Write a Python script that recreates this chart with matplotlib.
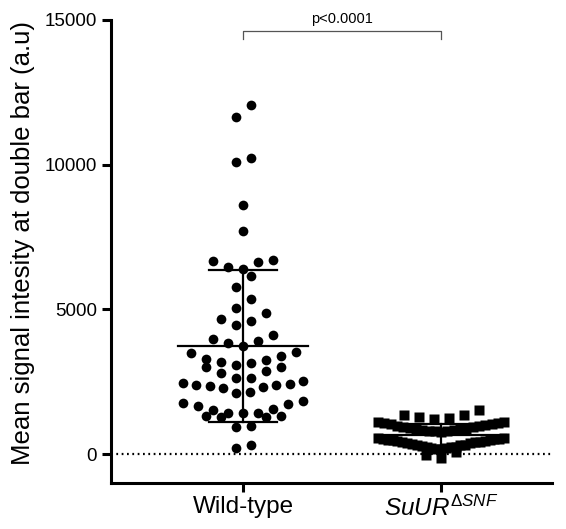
import numpy as np
import matplotlib
matplotlib.use("Agg")
import matplotlib.pyplot as plt

plt.rcParams["font.family"] = ["Liberation Sans", "DejaVu Sans"]
plt.rcParams["mathtext.fontset"] = "custom"
plt.rcParams["mathtext.rm"] = "Liberation Sans"
plt.rcParams["mathtext.it"] = "Liberation Sans:italic"

groups = ["Wild-type", r"$SuUR^{\Delta SNF}$"]

wild_type = [
    12050, 11640, 10220, 10080, 8615, 7715, 6710, 6680, 6640, 6480, 6400,
    6170, 5770, 5350, 5040, 4870, 4660, 4600, 4460, 4120, 3970, 3890, 3850,
    3740, 3520, 3480, 3400, 3290, 3250, 3170, 3140, 3090, 3000, 3000, 2860,
    2790, 2630, 2620, 2540, 2450, 2420, 2380, 2380, 2350, 2310, 2280, 2150,
    2100, 1820, 1750, 1730, 1660, 1570, 1520, 1430, 1410, 1410, 1315, 1315,
    1290, 1270, 970, 920, 310, 200,
]

suur = [
    1520, 1350, 1350, 1280, 1245, 1210,
    1120, 1105, 1080, 1065, 1040, 1030, 1000, 985, 960, 950, 925, 905,
    880, 870, 850, 830, 815, 800, 790, 780, 770,
    560, 550, 535, 520, 510, 495, 480, 470, 455, 440, 430, 410, 400, 385,
    370, 350, 330, 315, 300, 280, 260, 240, 230, 210, 195, 185, 180,
    60, -20, -140,
]

p_text = "p<0.0001"

W, H = 566, 529
fig = plt.figure(figsize=(W / 100, H / 100), dpi=100)
ax = fig.add_axes([111 / W, 46 / H, 441 / W, 463 / H])
ax.set_ylim(-1000, 15000)
ax.set_xlim(-0.667, 1.56)

# pixels per x data unit, used for the scatter layout
px_x = 441 / (1.56 + 0.667)


def rows_layout(values, thresh, spacing, half_width):
    # group sorted values into rows, spread each row sideways (lowest in the middle)
    vals = np.asarray(values, dtype=float)
    order = list(np.argsort(-vals))
    offs = np.zeros(len(vals))
    while order:
        top = vals[order[0]]
        row = [i for i in order if top - vals[i] <= thresh]
        order = [i for i in order if i not in row]
        n = len(row)
        sp = spacing if n < 2 else min(spacing, 2 * half_width / (n - 1))
        slots = sorted(((k - (n - 1) / 2) * sp for k in range(n)), key=lambda s: (abs(s), s))
        row_sorted = sorted(row, key=lambda i: vals[i])
        for i, s in zip(row_sorted, slots):
            offs[i] = s / px_x
    return offs


wt_off = rows_layout(wild_type, 450, 15, 60)
su_off = rows_layout(suur, 390, 15, 63)

ax.plot(0 + wt_off, wild_type, "o", color="black", ms=7, mec="none", clip_on=False)
ax.plot(1 + su_off, suur, "s", color="black", ms=6.5, mec="none", clip_on=False)

for x, vals in [(0, wild_type), (1, suur)]:
    m = np.mean(vals)
    sd = np.std(vals, ddof=1)
    ax.plot([x - 0.33, x + 0.33], [m, m], color="black", lw=1.6)
    ax.plot([x, x], [m - sd, m + sd], color="black", lw=1.6)
    for yy in (m - sd, m + sd):
        ax.plot([x - 0.17, x + 0.17], [yy, yy], color="black", lw=1.6)

ax.axhline(0, color="black", lw=1.6, ls=(0, (0.8, 1.6)))

# significance bracket
ax.plot([0, 0, 1, 1], [14330, 14620, 14620, 14330], color="#555555", lw=0.9, clip_on=False)
ax.text(0.5, 14800, p_text, ha="center", va="bottom", fontsize=10.5)

for side in ("top", "right"):
    ax.spines[side].set_visible(False)
for side in ("left", "bottom"):
    ax.spines[side].set_linewidth(2.2)

ax.set_yticks([0, 5000, 10000, 15000])
ax.set_xticks([0, 1])
ax.set_xticklabels(groups)
ax.tick_params(axis="both", width=2.2, length=6.5)
ax.tick_params(axis="y", labelsize=13.5)
ax.tick_params(axis="x", labelsize=17.5, pad=3)
ax.set_ylabel("Mean signal intesity at double bar (a.u)", fontsize=18.5)
ax.yaxis.set_label_coords(-0.172, 0.518)

fig.savefig("out.png", dpi=100)
